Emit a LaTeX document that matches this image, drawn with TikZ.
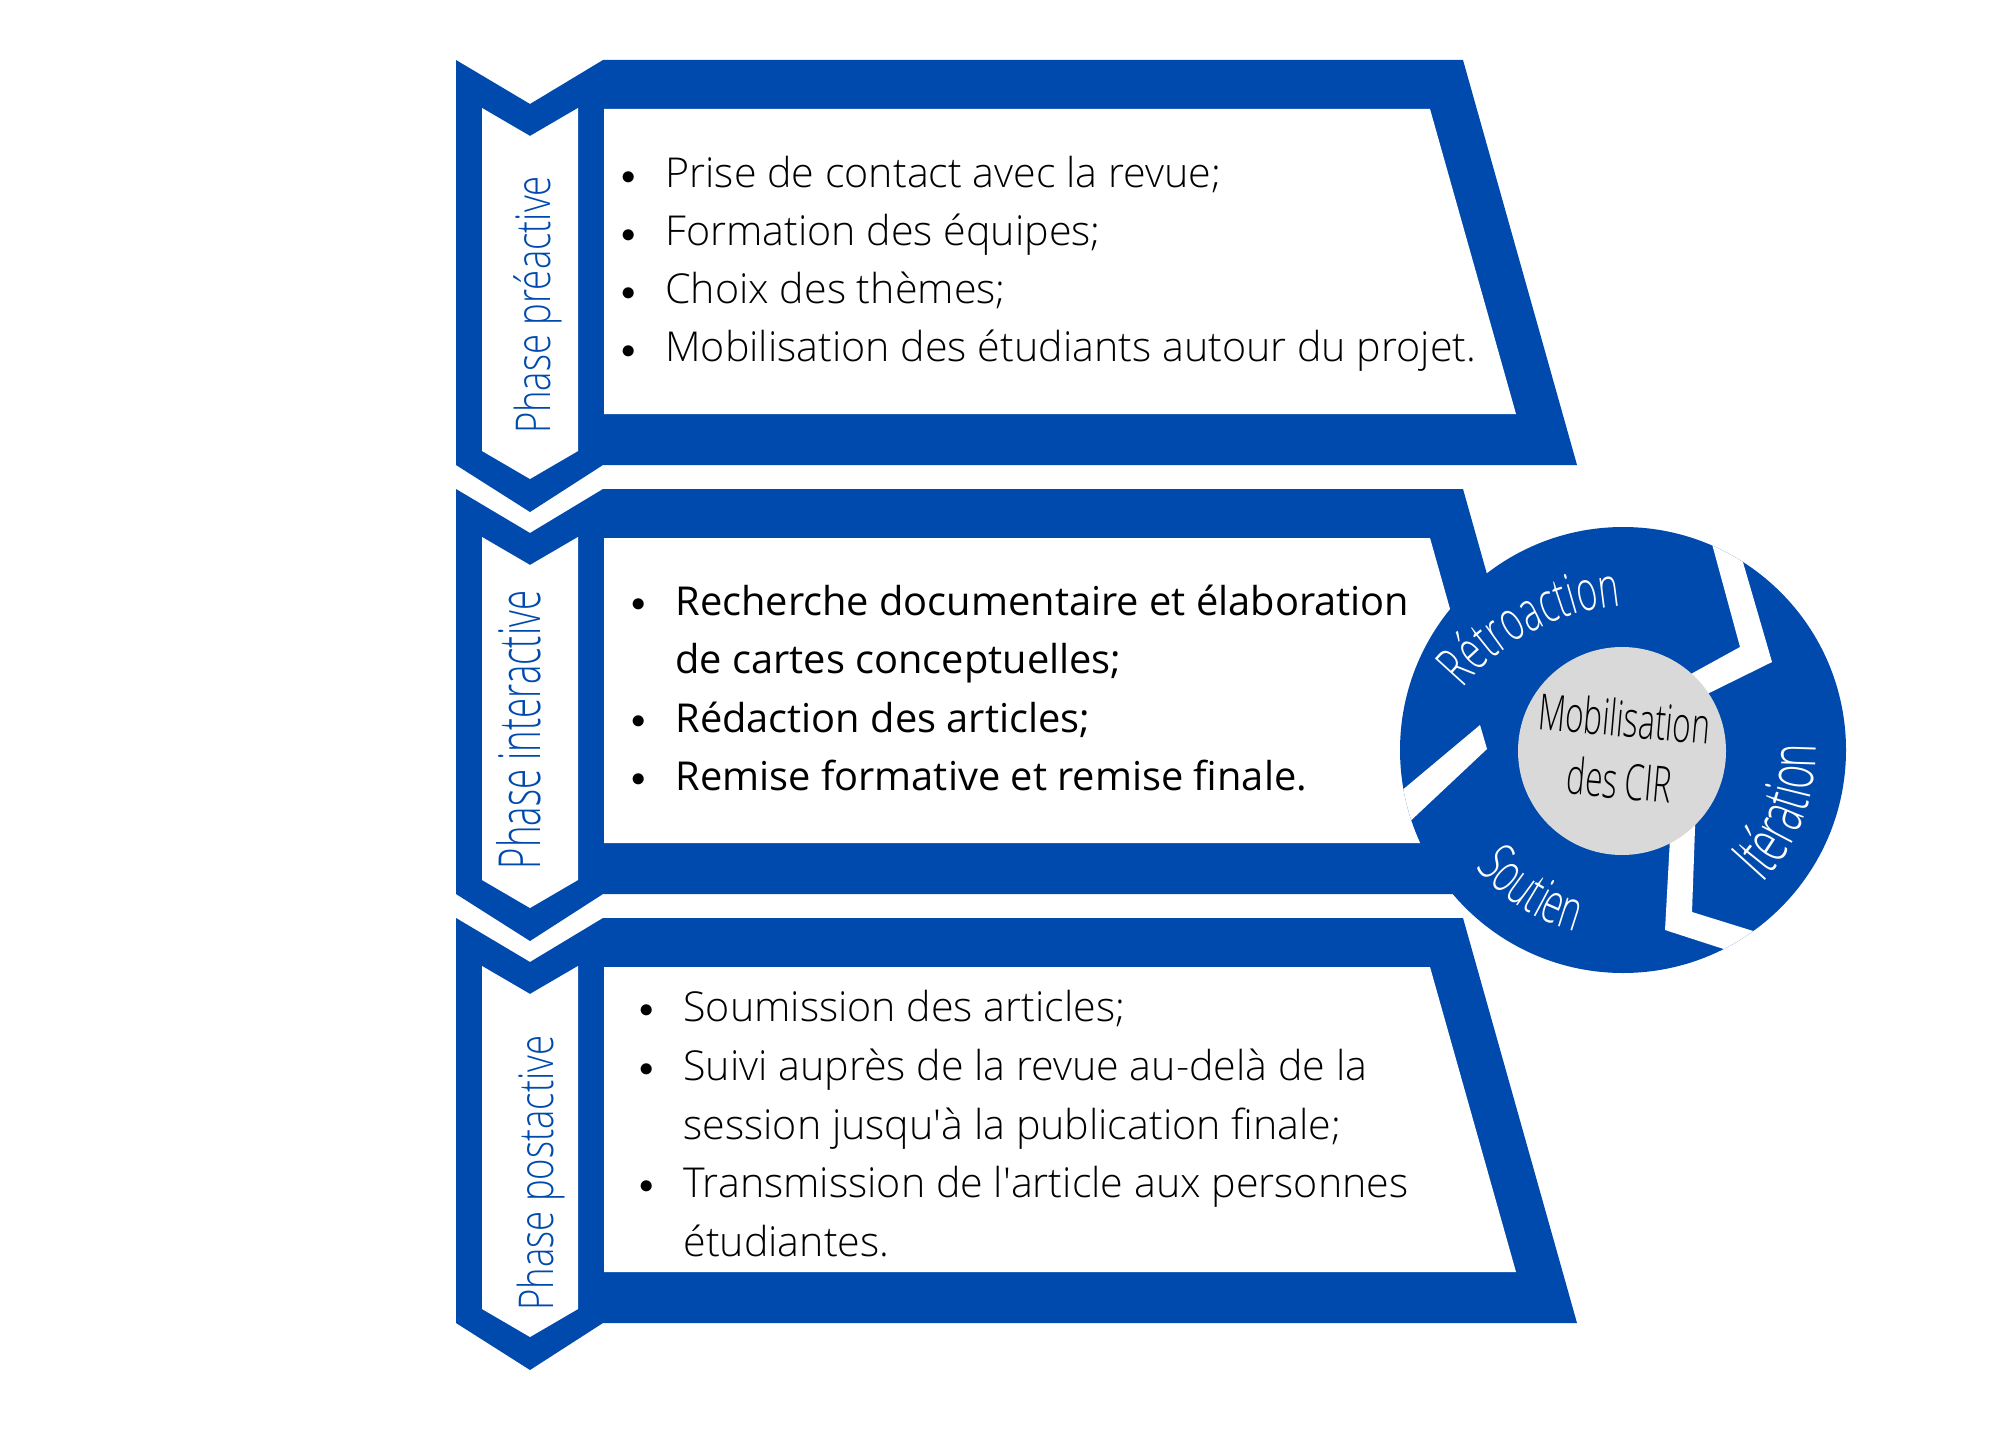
\documentclass[tikz,border=0pt]{standalone}
\usepackage{fontspec}
\setmainfont{Open Sans}
\newfontfamily\lightfont{OpenSans-Light.ttf}
\newfontfamily\regfont{OpenSans-Regular.ttf}
\newfontfamily\phasefont[FakeStretch=0.76]{OpenSans-Light.ttf}
\newfontfamily\phasefontb[FakeStretch=0.63]{OpenSans-Light.ttf}
\newfontfamily\ringfont[FakeStretch=0.63]{OpenSans-Light.ttf}
\usetikzlibrary{decorations.text}
\definecolor{cirblue}{HTML}{004AAD}
\definecolor{cirgray}{HTML}{D9D9D9}
\newcommand{\puce}{\makebox[22pt][l]{\raisebox{1.6pt}{\fontsize{15}{15}\selectfont$\bullet$}}}
\newcommand{\retrait}{\hspace*{22pt}}
\tikzset{
  lignea/.style={anchor=base west, inner sep=0pt, font=\lightfont\fontsize{20.6}{24}\selectfont},
  ligneb/.style={anchor=base west, inner sep=0pt, font=\regfont\fontsize{19.9}{24}\selectfont},
  phase/.style={rotate=90, anchor=base, inner sep=0pt, text=cirblue},
}

\begin{document}
\begin{tikzpicture}[x=0.5pt,y=0.5pt]
        \useasboundingbox (0,0) rectangle (2000,-1428);
        % bloc 1
        \fill[cirblue] (456,-60) -- (530,-104) -- (603,-60) -- (1463,-60) -- (1577,-465) -- (603,-465) -- (530,-512) -- (456,-465) -- cycle;
        \fill[white] (482,-108) -- (530,-136) -- (578,-108) -- (578,-451) -- (530,-479) -- (482,-451) -- cycle;
        \fill[white] (604,-109) -- (1430,-109) -- (1516,-414) -- (604,-414) -- cycle;
        % bloc 2
        \fill[cirblue] (456,-489) -- (530,-533) -- (603,-489) -- (1463,-489) -- (1577,-894) -- (603,-894) -- (530,-941) -- (456,-894) -- cycle;
        \fill[white] (482,-537) -- (530,-565) -- (578,-537) -- (578,-880) -- (530,-908) -- (482,-880) -- cycle;
        \fill[white] (604,-538) -- (1430,-538) -- (1516,-843) -- (604,-843) -- cycle;
        % bloc 3
        \fill[cirblue] (456,-918) -- (530,-962) -- (603,-918) -- (1463,-918) -- (1577,-1323) -- (603,-1323) -- (530,-1370) -- (456,-1323) -- cycle;
        \fill[white] (482,-966) -- (530,-994) -- (578,-966) -- (578,-1309) -- (530,-1337) -- (482,-1309) -- cycle;
        \fill[white] (604,-967) -- (1430,-967) -- (1516,-1272) -- (604,-1272) -- cycle;

        \node[phase, font=\phasefont\fontsize{24}{28}\selectfont] (pre) at (550,-305) {Phase préactive};
        \node[phase, font=\phasefontb\fontsize{29}{34}\selectfont] (inter) at (540,-730) {Phase interactive};
        \node[phase, font=\phasefont\fontsize{24}{28}\selectfont] (post) at (553,-1173) {Phase postactive};

        \node[lignea] (pre1) at (621,-188) {\puce Prise de contact avec la revue;};
        \node[lignea] (pre2) at (621,-246) {\puce Formation des équipes;};
        \node[lignea] (pre3) at (621,-304) {\puce Choix des thèmes;};
        \node[lignea] (pre4) at (621,-362) {\puce Mobilisation des étudiants autour du projet.};

        \node[ligneb] (inter1) at (631,-615) {\puce Recherche documentaire et élaboration};
        \node[ligneb] (inter2) at (631,-673) {\retrait de cartes conceptuelles;};
        \node[ligneb] (inter3) at (631,-732) {\puce Rédaction des articles;};
        \node[ligneb] (inter4) at (631,-790) {\puce Remise formative et remise finale.};

        \node[lignea] (post1) at (639,-1021) {\puce Soumission des articles;};
        \node[lignea] (post2) at (639,-1080) {\puce Suivi auprès de la revue au-delà de la};
        \node[lignea] (post3) at (639,-1139) {\retrait session jusqu\textquotesingle à la publication finale;};
        \node[lignea] (post4) at (639,-1197) {\puce Transmission de l\textquotesingle article aux personnes};
        \node[lignea] (post5) at (639,-1256) {\retrait étudiantes.};

        % cycle
        \fill[cirblue] (1623,-750) circle[radius=223];
        \begin{scope}
        \clip (1623,-750) circle[radius=223];
        \fill[white] (1709,-533) -- (1740,-647) -- (1680,-680) -- (1695,-700) -- (1772,-662) -- (1740,-552) -- cycle;
        \fill[white] (1696,-800) -- (1692,-912) -- (1766,-935) -- (1736,-953) -- (1665,-930) -- (1671,-820) -- cycle;
        \fill[white] (1480,-725) -- (1487,-749) -- (1404,-827) -- (1394,-797) -- cycle;
        \end{scope}
        \fill[cirgray] (1622,-751) circle[radius=104];
        \node[align=center, rotate=-5, font=\ringfont\fontsize{25}{31}\selectfont] (mob) at (1622,-749) {Mobilisation\\des CIR};

        \path[decorate, decoration={text along path, text align=center, text={|\ringfont\fontsize{28}{32}\selectfont\color{white}|Rétroaction}}] (1640,-835) ++(155:230) arc[start angle=155, end angle=80, radius=230];
        \path[decorate, decoration={text along path, text align=center, text={|\ringfont\fontsize{28}{32}\selectfont\color{white}|Soutien}}] (1623,-750) ++(203:188) arc[start angle=203, end angle=271, radius=188];
        \path[decorate, decoration={text along path, text align=center, text={|\ringfont\fontsize{32}{36}\selectfont\color{white}|Itération}}] (1623,-750) ++(-58:193) arc[start angle=-58, end angle=16, radius=193];
\end{tikzpicture}
\end{document}
